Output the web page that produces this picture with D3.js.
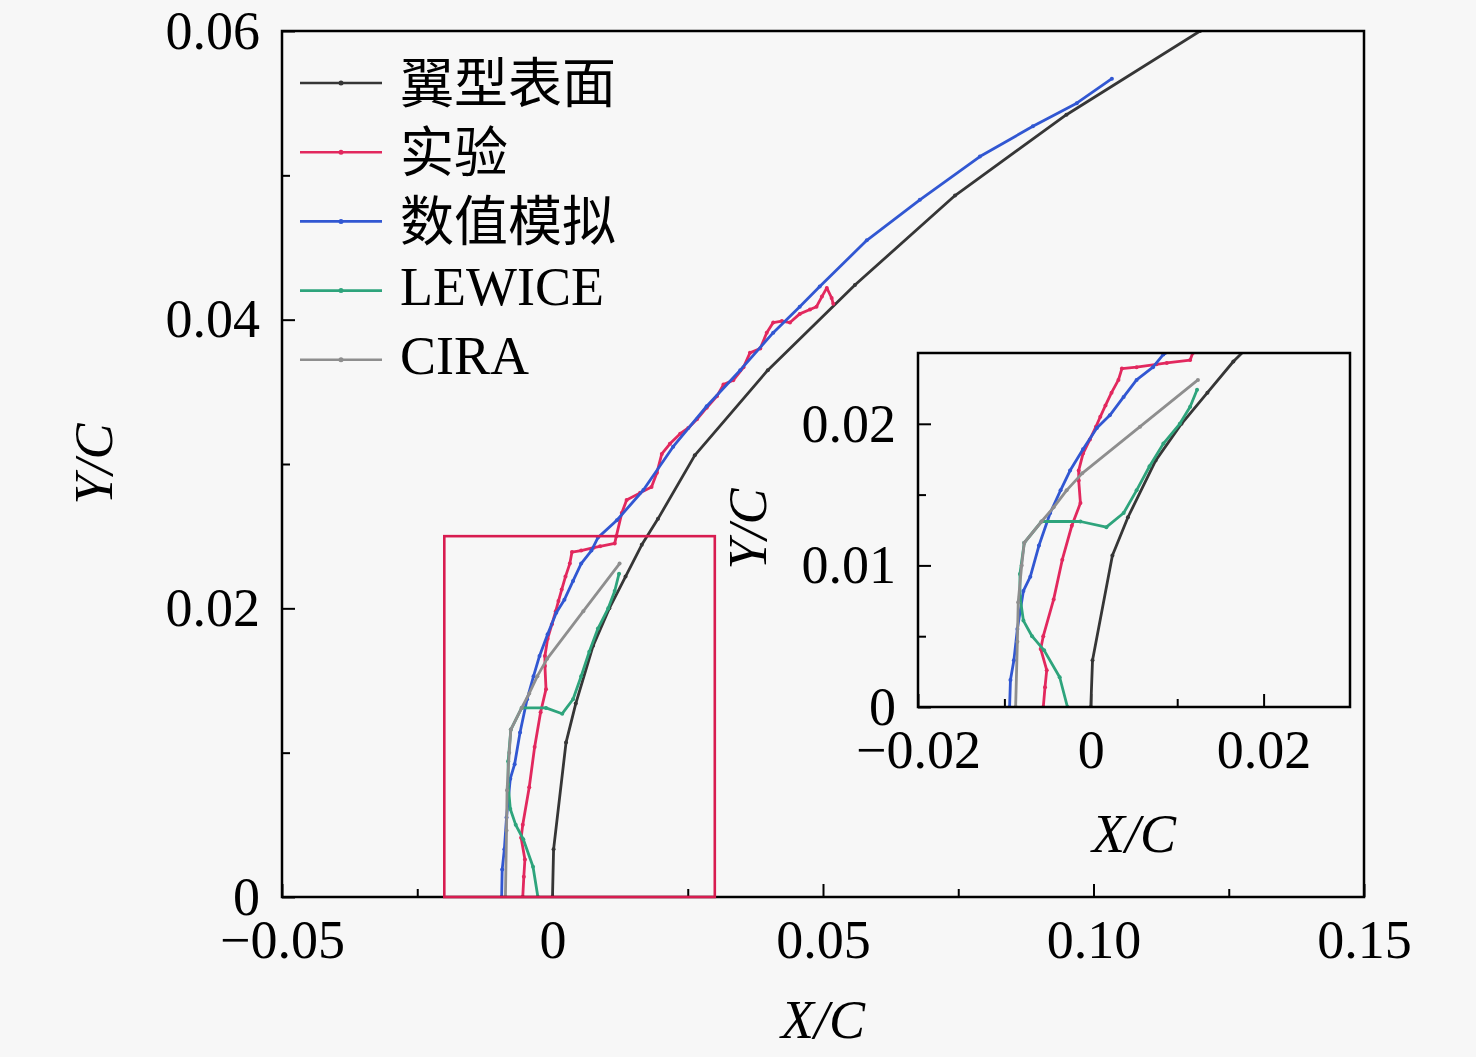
<!DOCTYPE html>
<html>
<head>
<meta charset="utf-8">
<script src="https://cdn.jsdelivr.net/npm/d3@7"></script>
<style>
  html, body { margin: 0; padding: 0; background: #f7f7f7; }
  svg { display: block; }
  .tick text { font-family: "Liberation Serif", "Times New Roman", serif; font-size: 54px; fill: #000; }
  .tick line { stroke: #000; stroke-width: 2; }
</style>
</head>
<body>
<svg id="chart"></svg>
<script>
// series, [X/C, Y/C]
const airfoil = [[0, 0], [0.0002, 0.0033], [0.0025, 0.0107], [0.0043, 0.0134], [0.0075, 0.0174], [0.0105, 0.0200],
  [0.0135, 0.0222], [0.0165, 0.0244], [0.0195, 0.0262], [0.0263, 0.0306], [0.0398, 0.0365], [0.0559, 0.0424],
  [0.0744, 0.0486], [0.0950, 0.0542], [0.1197, 0.0600]];
const experiment = [[-0.0055, 0], [-0.0053, 0.0014], [-0.0051, 0.0026], [-0.0058, 0.0041], [-0.0055, 0.0050],
  [-0.0043, 0.0076], [-0.0033, 0.0104], [-0.0022, 0.0128], [-0.0012, 0.0144], [-0.0014, 0.0160], [-0.0014, 0.0167],
  [-0.0009, 0.0179], [-0.0001, 0.0189], [0.0006, 0.0198], [0.0011, 0.0205], [0.0017, 0.0213], [0.0024, 0.0222],
  [0.0032, 0.0231], [0.0036, 0.0239], [0.0053, 0.0240], [0.0076, 0.0242], [0.0088, 0.0243], [0.0115, 0.0245],
  [0.0118, 0.0250], [0.0128, 0.0266], [0.0137, 0.0275], [0.0162, 0.0280], [0.0183, 0.0284], [0.0193, 0.0294],
  [0.0202, 0.0307], [0.0217, 0.0314], [0.0236, 0.0321], [0.0251, 0.0325], [0.0267, 0.0331], [0.0285, 0.0339],
  [0.0304, 0.0347], [0.0316, 0.0355], [0.0334, 0.0358], [0.0353, 0.0367], [0.0365, 0.0377], [0.0384, 0.0380],
  [0.0396, 0.0391], [0.0408, 0.0398], [0.0424, 0.0399], [0.0439, 0.0398], [0.0457, 0.0404], [0.0476, 0.0407],
  [0.0488, 0.0409], [0.0498, 0.0416], [0.0507, 0.0422], [0.0516, 0.0415], [0.0519, 0.0411]];
const simulation = [[-0.0094, 0], [-0.0093, 0.0019], [-0.0089, 0.0033], [-0.0085, 0.0055], [-0.0078, 0.0082],
  [-0.0070, 0.0092], [-0.0060, 0.0114], [-0.0047, 0.0137], [-0.0035, 0.0153], [-0.0024, 0.0167], [-0.0009, 0.0182],
  [0.0007, 0.0197], [0.0022, 0.0206], [0.0038, 0.0219], [0.0053, 0.0231], [0.0072, 0.0240], [0.0084, 0.0249],
  [0.0119, 0.0261], [0.0168, 0.0282], [0.0223, 0.0312], [0.0285, 0.0340], [0.0347, 0.0365], [0.0408, 0.0391],
  [0.0457, 0.0409], [0.0494, 0.0423], [0.0581, 0.0455], [0.0679, 0.0483], [0.0790, 0.0513], [0.0888, 0.0534],
  [0.0969, 0.0550], [0.1034, 0.0567]];
const lewice = [[-0.0027, 0], [-0.0036, 0.0021], [-0.0054, 0.0040], [-0.0068, 0.0050], [-0.0078, 0.0061],
  [-0.0082, 0.0078], [-0.0082, 0.0094], [-0.0077, 0.0116], [-0.0057, 0.0131], [-0.0012, 0.0131], [0.0018, 0.0127],
  [0.0038, 0.0137], [0.0053, 0.0153], [0.0068, 0.0170], [0.0084, 0.0186], [0.0103, 0.0200], [0.0115, 0.0212],
  [0.0123, 0.0224]];
const cira = [[-0.0087, 0], [-0.0085, 0.0046], [-0.0084, 0.0074], [-0.0080, 0.0100], [-0.0077, 0.0116],
  [-0.0057, 0.0131], [-0.0043, 0.0141], [-0.0028, 0.0153], [-0.0010, 0.0165], [0.0057, 0.0198], [0.0124, 0.0231]];

const seriesNames = ["翼型表面", "实验", "数值模拟", "LEWICE", "CIRA"];
const seriesData = [airfoil, experiment, simulation, lewice, cira];
const seriesColors = ["#363636", "#e2285e", "#3157d2", "#2ea47c", "#8e8e8e"];

const mainXTicks = [-0.05, 0, 0.05, 0.10, 0.15];
const mainXLabels = ["−0.05", "0", "0.05", "0.10", "0.15"];
const mainXMinor = [-0.025, 0.025, 0.075, 0.125];
const mainYTicks = [0, 0.02, 0.04, 0.06];
const mainYLabels = ["0", "0.02", "0.04", "0.06"];
const mainYMinor = [0.01, 0.03, 0.05];

const insetXTicks = [-0.02, 0, 0.02];
const insetXLabels = ["−0.02", "0", "0.02"];
const insetXMinor = [-0.01, 0.01];
const insetYTicks = [0, 0.01, 0.02];
const insetYLabels = ["0", "0.01", "0.02"];
const insetYMinor = [0.005, 0.015];

const zoomBox = { x0: -0.02, x1: 0.03, y0: 0, y1: 0.025 };

const W = 1476, H = 1057;
const svg = d3.select("#chart").attr("width", W).attr("height", H);
const serif = "'Liberation Serif', 'Times New Roman', serif";

function panel(opts) {
  const { left, top, width, height, xDomain, yDomain, xTicks, xLabels, xMinor, yTicks, yLabels, yMinor, id } = opts;
  const x = d3.scaleLinear().domain(xDomain).range([0, width]);
  const y = d3.scaleLinear().domain(yDomain).range([height, 0]);
  const g = svg.append("g").attr("transform", `translate(${left},${top})`);

  g.append("rect").attr("width", width).attr("height", height).attr("fill", "#f7f7f7");

  g.append("clipPath").attr("id", id).append("rect").attr("width", width).attr("height", height);

  // minor ticks
  g.append("g").attr("transform", `translate(0,${height})`)
    .call(d3.axisBottom(x).tickValues(xMinor).tickSizeInner(-8).tickSizeOuter(0).tickFormat(""))
    .call(a => a.select(".domain").remove());
  g.append("g")
    .call(d3.axisLeft(y).tickValues(yMinor).tickSizeInner(-8).tickSizeOuter(0).tickFormat(""))
    .call(a => a.select(".domain").remove());

  // major ticks
  g.append("g").attr("transform", `translate(0,${height})`)
    .call(d3.axisBottom(x).tickValues(xTicks).tickSizeInner(-13).tickSizeOuter(0).tickPadding(23)
      .tickFormat((d, i) => xLabels[i]))
    .call(a => a.select(".domain").remove());
  g.append("g")
    .call(d3.axisLeft(y).tickValues(yTicks).tickSizeInner(-13).tickSizeOuter(0).tickPadding(22)
      .tickFormat((d, i) => yLabels[i]))
    .call(a => a.select(".domain").remove());

  const line = d3.line().x(d => x(d[0])).y(d => y(d[1]));
  const plot = g.append("g").attr("clip-path", `url(#${id})`);
  seriesData.forEach((data, i) => {
    plot.append("path")
      .datum(data)
      .attr("d", line)
      .attr("fill", "none")
      .attr("stroke", seriesColors[i])
      .attr("stroke-width", 2.8)
      .attr("stroke-linejoin", "round");
    plot.selectAll(null)
      .data(data)
      .enter()
      .append("circle")
      .attr("cx", d => x(d[0]))
      .attr("cy", d => y(d[1]))
      .attr("r", 2)
      .attr("fill", seriesColors[i]);
  });

  g.append("rect").attr("width", width).attr("height", height)
    .attr("fill", "none").attr("stroke", "#000").attr("stroke-width", 2.5);

  return { g, x, y };
}

const main = panel({
  id: "clipMain", left: 282, top: 31, width: 1082, height: 866,
  xDomain: [-0.05, 0.15], yDomain: [0, 0.06],
  xTicks: mainXTicks, xLabels: mainXLabels, xMinor: mainXMinor,
  yTicks: mainYTicks, yLabels: mainYLabels, yMinor: mainYMinor
});

// zoom rectangle
main.g.append("rect")
  .attr("x", main.x(zoomBox.x0))
  .attr("y", main.y(zoomBox.y1))
  .attr("width", main.x(zoomBox.x1) - main.x(zoomBox.x0))
  .attr("height", main.y(zoomBox.y0) - main.y(zoomBox.y1))
  .attr("fill", "none")
  .attr("stroke", "#d81c50")
  .attr("stroke-width", 2.6);

// axis titles
svg.append("text").attr("x", 823).attr("y", 1038).attr("text-anchor", "middle")
  .attr("font-family", serif).attr("font-size", 54).attr("font-style", "italic").text("X/C");
svg.append("text").attr("transform", "translate(112,464) rotate(-90)").attr("text-anchor", "middle")
  .attr("font-family", serif).attr("font-size", 54).attr("font-style", "italic").text("Y/C");

// legend
const legend = svg.append("g").attr("transform", "translate(300,83)");
seriesNames.forEach((name, i) => {
  const row = legend.append("g").attr("transform", `translate(0,${i * 69.2})`);
  row.append("line").attr("x1", 0).attr("x2", 82).attr("y1", 0).attr("y2", 0)
    .attr("stroke", seriesColors[i]).attr("stroke-width", 2.6);
  row.append("circle").attr("cx", 41).attr("cy", 0).attr("r", 2.5).attr("fill", seriesColors[i]);
  row.append("text").attr("x", 100).attr("y", -4).attr("dominant-baseline", "central")
    .attr("font-family", i < 3 ? "'Noto Sans CJK SC', sans-serif" : serif)
    .attr("font-size", 54).text(name);
});

// inset
const inset = panel({
  id: "clipInset", left: 918, top: 353, width: 432, height: 354,
  xDomain: [zoomBox.x0, zoomBox.x1], yDomain: [zoomBox.y0, zoomBox.y1],
  xTicks: insetXTicks, xLabels: insetXLabels, xMinor: insetXMinor,
  yTicks: insetYTicks, yLabels: insetYLabels, yMinor: insetYMinor
});

svg.append("text").attr("x", 1134).attr("y", 852).attr("text-anchor", "middle")
  .attr("font-family", serif).attr("font-size", 54).attr("font-style", "italic").text("X/C");
svg.append("text").attr("transform", "translate(766,529) rotate(-90)").attr("text-anchor", "middle")
  .attr("font-family", serif).attr("font-size", 54).attr("font-style", "italic").text("Y/C");
</script>
</body>
</html>
